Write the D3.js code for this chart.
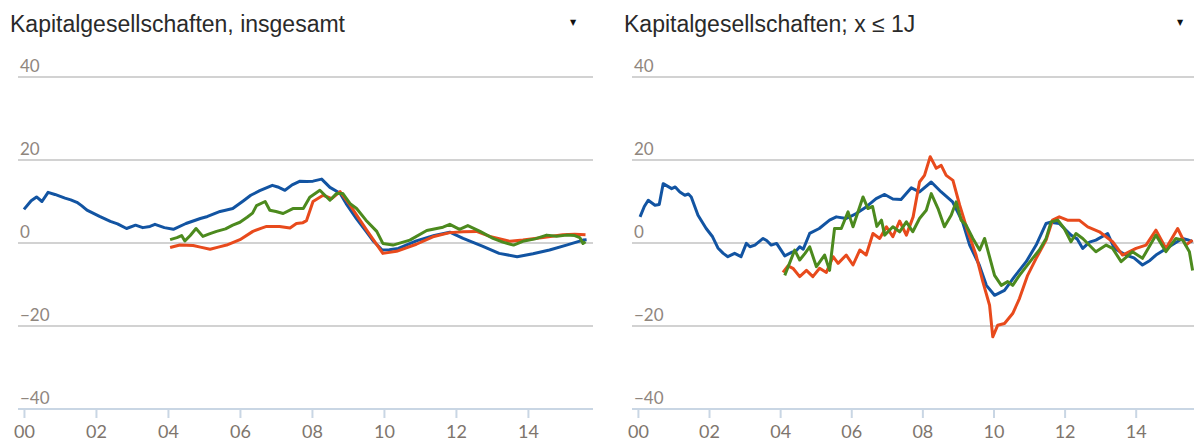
<!DOCTYPE html>
<html>
<head>
<meta charset="utf-8">
<script src="https://cdn.jsdelivr.net/npm/d3@7"></script>
<style>
    body { margin: 0; background: #fff; }
    svg { display: block; }
</style>
</head>
<body>
<div id="chartDiv"></div>
<script>
// Veraenderung ggue. Vorjahr, Kapitalgesellschaften
var xTickYears = [2000, 2002, 2004, 2006, 2008, 2010, 2012, 2014];
var xTickLabels = ["00", "02", "04", "06", "08", "10", "12", "14"];
var yTicks = [40, 20, 0, -20, -40];
var yTickLabels = ["40", "20", "0", "\u221220", "\u221240"];
var titles = ["Kapitalgesellschaften, insgesamt", "Kapitalgesellschaften; x \u2264 1J"];

// linkes Panel: [Jahr, Wert]
var leftBlue = [[2000.0, 8.1], [2000.2, 10.2], [2000.35, 11.1], [2000.5, 10.0], [2000.67, 12.2], [2000.86, 11.7],
    [2001.14, 10.8], [2001.3, 10.4], [2001.47, 9.8], [2001.6, 9.0], [2001.75, 7.9], [2002.1, 6.4], [2002.4, 5.2],
    [2002.6, 4.6], [2002.85, 3.5], [2003.1, 4.3], [2003.3, 3.7], [2003.5, 4.0], [2003.64, 4.5], [2003.9, 3.7],
    [2004.15, 3.3], [2004.5, 4.7], [2004.9, 5.9], [2005.1, 6.4], [2005.45, 7.6], [2005.6, 7.9], [2005.8, 8.3],
    [2006.1, 10.2], [2006.3, 11.5], [2006.55, 12.6], [2006.9, 13.9], [2007.05, 13.5], [2007.25, 12.7], [2007.45, 14.0],
    [2007.67, 14.9], [2007.85, 14.8], [2008.03, 14.9], [2008.27, 15.4], [2008.5, 13.4], [2008.78, 12.0], [2008.95, 9.5],
    [2009.24, 5.8], [2009.52, 2.6], [2009.7, 0.5], [2009.95, -1.7], [2010.15, -1.6], [2010.4, -1.3], [2010.9, 0.5],
    [2011.4, 1.8], [2011.83, 2.6], [2012.2, 1.1], [2012.75, -0.8], [2013.2, -2.5], [2013.7, -3.3], [2014.14, -2.6],
    [2014.6, -1.7], [2015.07, -0.5], [2015.53, 0.7], [2015.63, 0.8]];
var leftRed = [[2004.06, -1.1], [2004.33, -0.5], [2004.7, -0.6], [2004.9, -1.0], [2005.17, -1.5], [2005.4, -1.0],
    [2005.63, -0.5], [2006.0, 0.8], [2006.36, 2.8], [2006.6, 3.6], [2006.74, 4.0], [2007.1, 4.0], [2007.39, 3.6],
    [2007.57, 4.7], [2007.75, 4.9], [2007.85, 5.4], [2008.03, 10.0], [2008.31, 11.5], [2008.55, 10.7], [2008.78, 12.4],
    [2009.06, 9.1], [2009.52, 3.1], [2009.97, -2.5], [2010.35, -2.0], [2010.9, -0.3], [2011.36, 1.5], [2011.83, 2.5],
    [2012.2, 2.7], [2012.57, 2.8], [2012.94, 1.6], [2013.5, 0.4], [2013.86, 0.7], [2014.42, 1.3], [2014.97, 2.0],
    [2015.3, 2.1], [2015.6, 2.0]];
var leftGreen = [[2004.06, 0.8], [2004.25, 1.3], [2004.38, 1.8], [2004.47, 0.5], [2004.62, 1.8], [2004.78, 3.5],
    [2004.97, 1.6], [2005.15, 2.2], [2005.35, 2.8], [2005.6, 3.4], [2005.8, 4.3], [2006.0, 5.0], [2006.2, 6.2],
    [2006.35, 7.2], [2006.46, 9.0], [2006.7, 10.0], [2006.83, 7.9], [2007.0, 7.6], [2007.2, 7.1], [2007.47, 8.3],
    [2007.76, 8.3], [2007.94, 11.0], [2008.22, 12.7], [2008.5, 10.3], [2008.68, 11.9], [2008.86, 11.9], [2009.06, 9.5],
    [2009.24, 8.3], [2009.5, 5.5], [2009.8, 2.8], [2009.97, -0.1], [2010.25, -0.5], [2010.72, 0.7], [2011.19, 3.0],
    [2011.64, 3.8], [2011.83, 4.5], [2012.1, 3.3], [2012.33, 4.2], [2012.67, 2.8], [2013.03, 1.1], [2013.3, 0.2],
    [2013.6, -0.5], [2013.86, 0.4], [2014.2, 1.0], [2014.52, 1.9], [2014.8, 1.6], [2015.07, 1.9], [2015.3, 1.8],
    [2015.44, 1.3], [2015.53, -0.1], [2015.6, 0.3]];

// rechtes Panel: [Jahr, Wert]
var rightBlue = [[2000.06, 6.3], [2000.18, 8.8], [2000.29, 10.3], [2000.48, 9.1], [2000.6, 9.3], [2000.71, 14.3],
    [2000.95, 13.1], [2001.05, 13.5], [2001.18, 12.3], [2001.32, 11.5], [2001.42, 11.8], [2001.5, 11.1], [2001.69, 6.7],
    [2001.92, 3.5], [2002.1, 1.5], [2002.25, -1.2], [2002.4, -2.5], [2002.53, -3.3], [2002.72, -2.5], [2002.9, -3.3],
    [2003.05, -0.1], [2003.15, -0.9], [2003.29, -0.5], [2003.52, 1.1], [2003.62, 0.6], [2003.75, -0.5], [2003.9, -0.1],
    [2004.13, -3.1], [2004.31, -2.3], [2004.45, -1.9], [2004.55, -0.9], [2004.65, -1.5], [2004.83, 2.3], [2005.1, 3.5],
    [2005.39, 5.5], [2005.58, 6.3], [2005.86, 5.9], [2006.14, 7.1], [2006.42, 8.7], [2006.7, 10.7], [2006.94, 11.7],
    [2007.17, 10.6], [2007.4, 10.5], [2007.69, 13.3], [2007.92, 12.3], [2008.25, 14.7], [2008.53, 12.3], [2008.85, 9.9],
    [2009.13, 5.1], [2009.33, -0.5], [2009.6, -5.3], [2009.8, -10.2], [2010.03, -12.6], [2010.31, -11.4], [2010.59, -8.1],
    [2010.92, -4.5], [2011.2, -0.5], [2011.48, 4.7], [2011.6, 5.0], [2011.85, 4.7], [2012.18, 1.9], [2012.35, 1.0],
    [2012.51, -1.3], [2012.7, 0.2], [2012.88, 0.7], [2013.21, 2.3], [2013.4, -1.3], [2013.72, -2.9], [2013.95, -3.6],
    [2014.19, -5.3], [2014.4, -4.2], [2014.57, -2.9], [2014.94, -0.9], [2015.31, 1.1], [2015.45, 0.8], [2015.6, 0.3]];
var rightRed = [[2004.08, -7.1], [2004.22, -5.5], [2004.36, -6.1], [2004.55, -8.1], [2004.74, -6.6], [2004.92, -8.1],
    [2005.11, -6.1], [2005.3, -7.1], [2005.49, -3.3], [2005.63, -4.9], [2005.86, -2.9], [2006.05, -5.3], [2006.24, -1.7],
    [2006.42, -2.9], [2006.61, 2.3], [2006.8, 1.1], [2006.99, 3.9], [2007.17, 1.5], [2007.36, 5.3], [2007.55, 1.9],
    [2007.74, 6.3], [2007.92, 14.7], [2008.06, 16.3], [2008.22, 20.8], [2008.39, 18.0], [2008.53, 18.7], [2008.67, 16.3],
    [2008.86, 15.1], [2009.05, 9.1], [2009.28, 2.7], [2009.51, -2.9], [2009.7, -9.3], [2009.89, -15.0], [2009.98, -22.6],
    [2010.12, -19.8], [2010.31, -19.4], [2010.54, -17.0], [2010.73, -13.4], [2010.96, -7.8], [2011.2, -3.7],
    [2011.48, 0.7], [2011.66, 5.5], [2011.85, 6.3], [2012.08, 5.5], [2012.41, 5.5], [2012.65, 3.9], [2012.98, 2.7],
    [2013.35, 0.3], [2013.63, -2.9], [2014.01, -1.3], [2014.29, -0.5], [2014.57, 3.1], [2014.85, -1.3], [2015.18, 3.5],
    [2015.41, -0.5], [2015.6, 0.7]];
var rightGreen = [[2004.13, -7.8], [2004.41, -1.7], [2004.55, -4.1], [2004.7, -2.5], [2004.83, -0.9], [2005.02, -5.7],
    [2005.25, -2.9], [2005.39, -6.6], [2005.53, 3.5], [2005.72, 3.5], [2005.91, 7.5], [2006.05, 3.9], [2006.33, 11.1],
    [2006.47, 8.3], [2006.6, 8.8], [2006.72, 4.0], [2006.85, 5.5], [2006.94, 1.9], [2007.17, 3.9], [2007.36, 2.7],
    [2007.55, 5.1], [2007.73, 2.7], [2007.92, 5.9], [2008.11, 7.9], [2008.25, 11.9], [2008.44, 8.3], [2008.62, 3.9],
    [2008.81, 6.7], [2008.95, 9.9], [2009.09, 5.5], [2009.23, 4.3], [2009.42, 1.1], [2009.61, -1.7], [2009.75, 1.1],
    [2010.03, -7.8], [2010.22, -10.2], [2010.4, -9.3], [2010.54, -10.2], [2010.73, -7.8], [2010.92, -5.7],
    [2011.1, -3.7], [2011.29, -1.7], [2011.48, 1.1], [2011.62, 5.1], [2011.81, 5.5], [2011.99, 3.5], [2012.18, 0.3],
    [2012.32, 2.3], [2012.51, 1.1], [2012.88, -2.1], [2013.17, -0.5], [2013.35, -1.3], [2013.59, -4.5], [2013.91, -2.1],
    [2014.19, -3.7], [2014.57, 1.9], [2014.85, -2.1], [2015.13, 1.1], [2015.32, 0.7], [2015.51, -2.1], [2015.6, -6.6]];

var seriesColors = ["#1254a2", "#e84a1c", "#4c8a1e"];

var W = 1194, H = 447;
var svg = d3.select("#chartDiv").append("svg").attr("width", W).attr("height", H);

var panels = [
    {title: titles[0], x0: 20, x1: 592, series: [leftBlue, leftRed, leftGreen]},
    {title: titles[1], x0: 634, x1: 1199, series: [rightBlue, rightRed, rightGreen]}
];

var yScale = d3.scaleLinear().domain([-40, 40]).range([409, 77]);

function drawPanel(p) {
    var g = svg.append("g").attr("class", "panel");
    var xScale = d3.scaleLinear().domain([1999.89, 2015.78]).range([p.x0, p.x1]);

    // Titel + Auswahlpfeil
    g.append("text").attr("x", p.x0 - 10).attr("y", 32)
        .style("font-family", "'Liberation Sans', Arial, sans-serif").style("font-size", "23px")
        .style("fill", "#2a2a2a").text(p.title);
    g.append("text").attr("x", p.x1 - 19).attr("y", 25).attr("text-anchor", "middle")
        .style("font-family", "'DejaVu Sans', sans-serif").style("font-size", "8px")
        .style("fill", "#111").text("\u25BC");

    // Gitterlinien
    g.selectAll("line.grid").data(yTicks.filter(function (d) { return d > -40; })).enter()
        .append("line").attr("class", "grid")
        .attr("x1", p.x0 - 2).attr("x2", p.x1 + 1)
        .attr("y1", function (d) { return yScale(d); })
        .attr("y2", function (d) { return yScale(d); })
        .style("stroke", "#d2d2d2").style("stroke-width", 2);

    g.selectAll("text.ylab").data(yTicks).enter()
        .append("text").attr("class", "ylab")
        .attr("x", p.x0).attr("y", function (d) { return yScale(d) - 5; })
        .style("font-family", "Lato, 'Open Sans', sans-serif").style("font-size", "17px")
        .style("fill", "#8f867e")
        .text(function (d, i) { return yTickLabels[i]; });

    // x-Achse
    var xAxis = d3.axisBottom(xScale).tickValues(xTickYears).tickSize(9)
        .tickFormat(function (d, i) { return xTickLabels[i]; });
    var ax = g.append("g").attr("transform", "translate(0," + yScale(-40) + ")").call(xAxis);
    ax.select(".domain").attr("d", "M" + (p.x0 - 2) + ",0H" + (p.x1 + 1))
        .style("stroke", "#c9d6e4").style("stroke-width", 2);
    ax.selectAll(".tick line").style("stroke", "#c9d6e4").style("stroke-width", 2);
    ax.selectAll(".tick text").attr("y", 16)
        .style("font-family", "Lato, 'Open Sans', sans-serif").style("font-size", "18px")
        .style("fill", "#7e756d");

    // Linien
    var line = d3.line()
        .x(function (d) { return xScale(d[0]); })
        .y(function (d) { return yScale(d[1]); });
    g.selectAll("path.series").data(p.series).enter()
        .append("path").attr("class", "series")
        .attr("d", line)
        .style("fill", "none")
        .style("stroke", function (d, i) { return seriesColors[i]; })
        .style("stroke-width", 3)
        .style("stroke-linejoin", "round");
}

panels.forEach(drawPanel);
</script>
</body>
</html>
